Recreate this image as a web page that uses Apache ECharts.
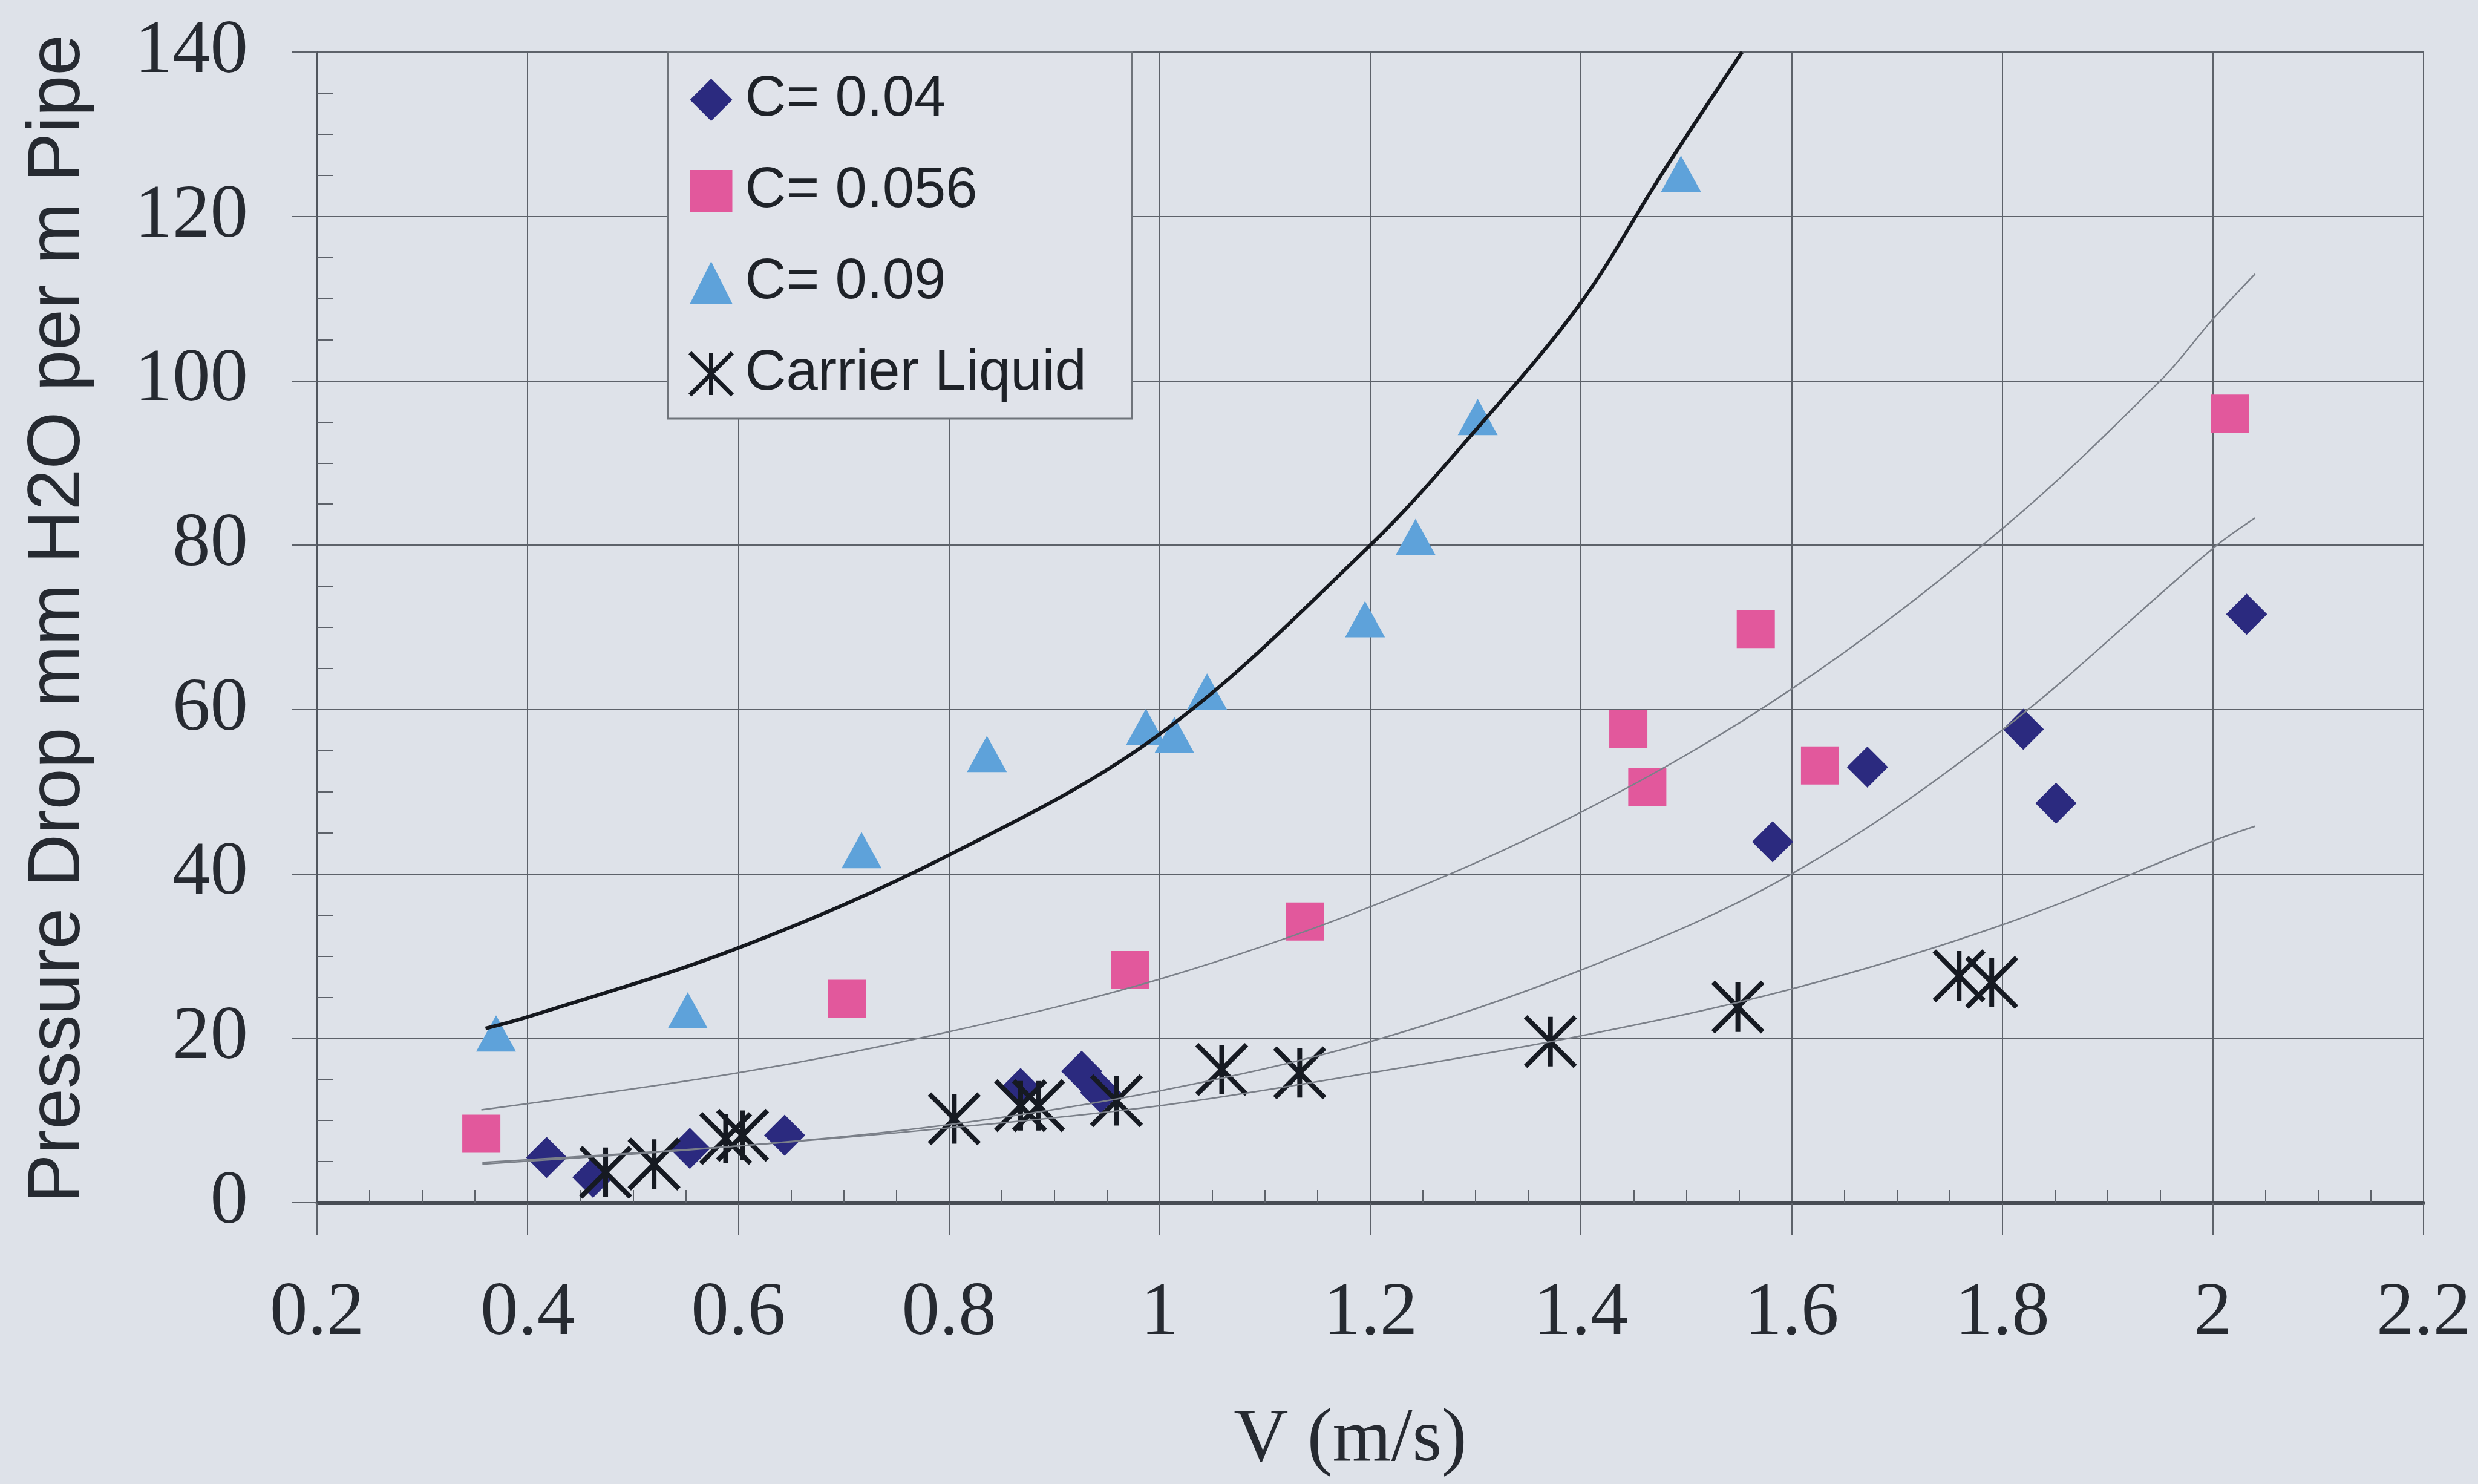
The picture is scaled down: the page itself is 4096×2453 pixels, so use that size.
<!DOCTYPE html>
<html><head><meta charset="utf-8">
<script src="https://cdn.jsdelivr.net/npm/echarts@6/dist/echarts.min.js"></script>
<style>html,body{margin:0;padding:0;background:#dee2e9;}#c{width:4096px;height:2453px;}</style>
</head><body><div id="c"></div>
<script>
// ---- data ----
const seriesNames = ['C= 0.04', 'C= 0.056', 'C= 0.09', 'Carrier Liquid'];
const xTickLabels = ['0.2','0.4','0.6','0.8','1','1.2','1.4','1.6','1.8','2','2.2'];
const yTickLabels = ['0','20','40','60','80','100','120','140'];

const c004 = [[0.418,5.5],[0.462,3.1],[0.554,6.6],[0.644,8.2],[0.868,13.9],[0.926,16.0],[0.944,13.4],
  [1.582,43.9],[1.672,53.0],[1.82,57.6],[1.851,48.6],[2.032,71.6]];
const c0056 = [[0.356,8.4],[0.703,24.8],[0.972,28.3],[1.138,34.2],[1.445,57.6],[1.463,50.6],
  [1.566,69.8],[1.627,53.2],[2.016,96.0]];
const c009 = [[0.37,20.6],[0.552,23.4],[0.717,42.9],[0.836,54.6],[0.987,57.9],[1.014,56.9],
  [1.045,62.2],[1.195,71.0],[1.243,81.0],[1.302,95.6],[1.495,125.2]];
const carrier = [[0.474,3.7],[0.52,4.7],[0.588,7.8],[0.604,8.2],[0.805,10.2],[0.868,11.8],[0.885,11.8],
  [0.959,12.4],[1.059,16.2],[1.133,15.8],[1.371,19.6],[1.549,23.8],[1.759,27.6],[1.79,26.8]];

// trend curves
const trend009 = [[0.36,21.2],[0.4,22.6],[0.6,31.0],[0.8,42.3],[1.0,57.0],[1.2,80.0],[1.3,94.0],
  [1.4,109.5],[1.476,125.0],[1.553,140.0]];
const trend0056 = [[0.356,11.3],[0.6,15.8],[0.8,20.8],[1.0,27.2],[1.2,36.0],[1.4,47.5],[1.6,62.5],
  [1.8,82.0],[1.95,100.0],[2.0,107.5],[2.04,113.0]];
const trend004 = [[0.357,4.7],[0.6,6.9],[0.8,9.5],[1.0,13.6],[1.2,19.6],[1.4,28.3],[1.6,40.0],
  [1.8,57.5],[2.0,79.6],[2.04,83.3]];
const trendCarrier = [[0.357,4.9],[0.6,6.9],[0.8,9.1],[1.0,11.8],[1.2,15.8],[1.4,20.3],[1.6,26.0],
  [1.8,33.8],[2.0,44.0],[2.04,45.8]];

// ---- chart ----
const BG = '#dee2e9';
const GRID = '#5d626a';
const INK = '#262a31';
const STAR = 'path://M0,0L10,10M10,0L0,10M5,0L5,10';
const serif = '"Liberation Serif","Times New Roman",serif';
const sans = '"Liberation Sans",Arial,sans-serif';

const chart = echarts.init(document.getElementById('c'));

function trendLine(data, color, width) {
  return { type: 'line', data: data, smooth: 0.35, showSymbol: false, symbol: 'none',
    silent: true, z: 5, lineStyle: { color: color, width: width }, emphasis: { disabled: true } };
}

chart.setOption({
  backgroundColor: BG,
  animation: false,
  grid: { left: 524, right: 90, top: 86, bottom: 465, containLabel: false },
  xAxis: {
    type: 'value', min: 0.2, max: 2.2, interval: 0.2,
    axisLine: { show: true, onZero: false, lineStyle: { color: '#474c54', width: 5 } },
    axisTick: { show: true, inside: false, length: 54, lineStyle: { color: GRID, width: 2 } },
    minorTick: { show: true, splitNumber: 4, length: -21, lineStyle: { color: GRID, width: 2 } },
    splitLine: { show: true, lineStyle: { color: GRID, width: 2 } },
    axisLabel: { margin: 122, fontFamily: serif, fontSize: 125, color: INK,
      formatter: v => xTickLabels[Math.round((v - 0.2) / 0.2)] }
  },
  yAxis: {
    type: 'value', min: 0, max: 140, interval: 20,
    axisLine: { show: true, onZero: false, lineStyle: { color: '#50555d', width: 3 } },
    axisTick: { show: true, inside: false, length: 41, lineStyle: { color: GRID, width: 2 } },
    minorTick: { show: true, splitNumber: 4, length: -26, lineStyle: { color: GRID, width: 2 } },
    splitLine: { show: true, lineStyle: { color: GRID, width: 2 } },
    axisLabel: { margin: 114, fontFamily: serif, fontSize: 125, color: INK,
      formatter: v => yTickLabels[Math.round(v / 20)] }
  },
  legend: {
    orient: 'vertical', left: 1104, top: 86,
    padding: [32, 75, 27, 33],
    itemWidth: 70, itemHeight: 70, itemGap: 57,
    backgroundColor: '#e0e3ea', borderColor: '#6f747b', borderWidth: 3,
    textStyle: { fontFamily: sans, fontSize: 94, color: '#1e2228', padding: [0, 0, 0, 16] },
    data: [
      { name: seriesNames[0], icon: 'diamond' },
      { name: seriesNames[1], icon: 'rect' },
      { name: seriesNames[2], icon: 'triangle' },
      { name: seriesNames[3], icon: STAR, itemStyle: { color: '#161a22', borderColor: '#161a22', borderWidth: 7 } }
    ]
  },
  graphic: [
    { type: 'text', x: 2232, y: 2381, style: { text: 'V (m/s)', font: '125px ' + serif, fill: INK,
      textAlign: 'center', textVerticalAlign: 'middle' } },
    { type: 'text', x: 97, y: 1023, rotation: Math.PI / 2, style: { text: 'Pressure Drop mm H2O per m Pipe',
      font: '122px ' + sans, fill: INK, textAlign: 'center', textVerticalAlign: 'middle' } }
  ],
  series: [
    { name: seriesNames[0], type: 'scatter', data: c004, symbol: 'diamond', symbolSize: 68, z: 3,
      itemStyle: { color: '#2b2a7f', opacity: 1 } },
    { name: seriesNames[1], type: 'scatter', data: c0056, symbol: 'rect', symbolSize: 63, z: 3,
      itemStyle: { color: '#e2589c', opacity: 1 } },
    { name: seriesNames[2], type: 'scatter', data: c009, symbol: 'triangle', symbolSize: [66, 60], z: 3,
      itemStyle: { color: '#5ea2da', opacity: 1 } },
    { name: seriesNames[3], type: 'scatter', data: carrier, symbol: STAR, symbolSize: 82, z: 4,
      itemStyle: { color: '#161a22', borderColor: '#161a22', borderWidth: 8, opacity: 1 } },
    trendLine(trend009, '#15181e', 6),
    trendLine(trend0056, '#7b8089', 2.5),
    trendLine(trend004, '#7b8089', 2.5),
    trendLine(trendCarrier, '#7b8089', 2.5)
  ]
});
</script></body></html>
